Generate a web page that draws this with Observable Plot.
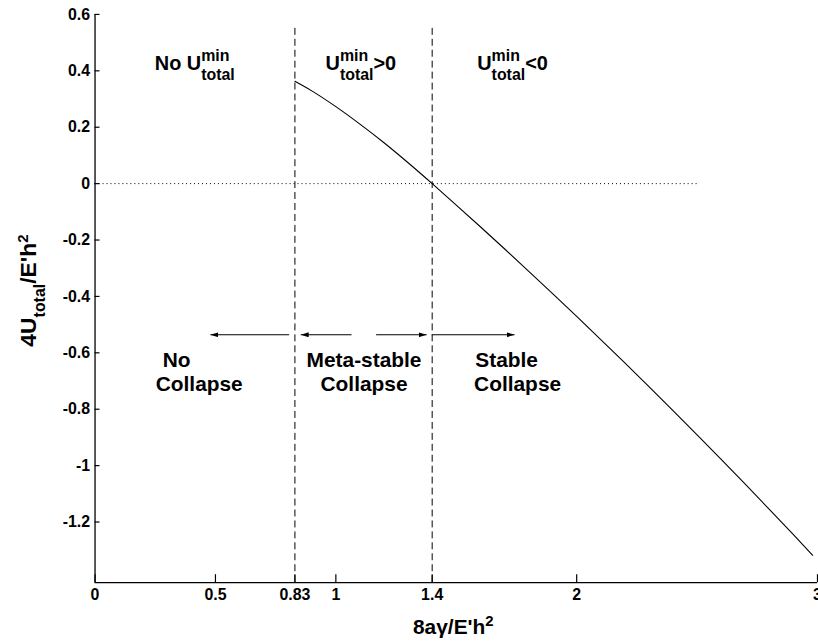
<!DOCTYPE html>
<html><head><meta charset="utf-8">
<script src="https://cdn.jsdelivr.net/npm/d3@7"></script>
<script src="https://cdn.jsdelivr.net/npm/@observablehq/plot@0.6"></script>
<style>
html,body{margin:0;padding:0;background:#fff;overflow:hidden;}
#chart{width:818px;height:644px;overflow:hidden;}
</style></head><body><div id="chart"></div>
<script>
// ---- data ----
const xTicks = [0, 0.5, 0.83, 1, 1.4, 2, 3];
const xTickLabels = ["0", "0.5", "0.83", "1", "1.4", "2", "3"];
const yTicks = [0.6, 0.4, 0.2, 0, -0.2, -0.4, -0.6, -0.8, -1, -1.2];
const yTickLabels = ["0.6", "0.4", "0.2", "0", "-0.2", "-0.4", "-0.6", "-0.8", "-1", "-1.2"];
const xDomain = [0, 3];
const yDomain = [-1.415, 0.6];

const ratio = [0.83, 0.9, 1.0, 1.1, 1.2, 1.3, 1.4, 1.5, 1.6, 1.7, 1.8, 1.9, 2.0, 2.1, 2.2, 2.3, 2.4, 2.5, 2.6, 2.7, 2.8, 2.9, 2.98];
const energy = [0.363, 0.329, 0.273, 0.211, 0.145, 0.074, 0.0, -0.076, -0.153, -0.231, -0.31, -0.39, -0.471, -0.553, -0.636, -0.72, -0.805, -0.891, -0.978, -1.066, -1.155, -1.245, -1.318];

const thresholds = [0.83, 1.4];
const thresholdTop = 0.555;
const zeroLineEnd = 2.5;

const arrowStart = [0.806, 1.065, 1.167, 1.398];
const arrowEnd = [0.479, 0.854, 1.377, 1.742];
const arrowLevel = -0.536;

const regionTitles = ["No U^{min}_{total}", "U^{min}_{total}>0", "U^{min}_{total}<0"];
const regionTitleX = [0.248, 0.957, 1.587];
const regionTitleY = 0.402;

const regimeLeftText = ["No", "Collapse", "Stable", "Collapse"];
const regimeLeftX = [0.281, 0.252, 1.579, 1.574];
const regimeLeftY = [-0.649, -0.737, -0.649, -0.737];
const regimeMidText = ["Meta-stable", "Collapse"];
const regimeMidX = [1.117, 1.117];
const regimeMidY = [-0.649, -0.737];

const xLabel = "8aγ/E'h^{2}";
const yLabel = "4U_{total}/E'h^{2}";

// ---- helpers ----
const FONT = "'Liberation Sans', Arial, Helvetica, sans-serif";
function filledArrow(color) {
  const m = d3.create("svg:marker")
    .attr("viewBox", "-8 -2.5 8 5")
    .attr("markerUnits", "userSpaceOnUse")
    .attr("markerWidth", 8).attr("markerHeight", 5)
    .attr("orient", "auto").attr("refX", 0).attr("refY", 0)
    .attr("fill", color).attr("stroke", "none");
  m.append("path").attr("d", "M-8,-2.5L0,0L-8,2.5Z");
  return m.node();
}
const idx = (a) => a.map((_, i) => i);

const plot = Plot.plot({
  width: 822, height: 644,
  marginLeft: 95, marginRight: 1, marginTop: 14, marginBottom: 59,
  style: {fontFamily: FONT, background: "#fff", color: "#000", overflow: "visible"},
  x: {domain: xDomain, axis: null},
  y: {domain: yDomain, axis: null},
  marks: [
    Plot.ruleY([0], {x1: 0, x2: zeroLineEnd, stroke: "#000", strokeWidth: 1, strokeDasharray: "1,3"}),
    Plot.ruleX(thresholds, {y1: yDomain[0], y2: thresholdTop, stroke: "#000", strokeWidth: 1, strokeDasharray: "7,4"}),
    Plot.line(idx(ratio), {x: i => ratio[i], y: i => energy[i], stroke: "#000", strokeWidth: 1.1, curve: "monotone-x"}),
    Plot.link(idx(arrowStart), {x1: i => arrowStart[i], x2: i => arrowEnd[i], y1: arrowLevel, y2: arrowLevel, stroke: "#000", strokeWidth: 1.2, markerEnd: filledArrow}),
    Plot.text(idx(regionTitles), {x: i => regionTitleX[i], y: regionTitleY, text: i => regionTitles[i], textAnchor: "start", lineAnchor: "bottom", fontSize: 20, fontWeight: "bold", fill: "#000"}),
    Plot.text(idx(regimeLeftText), {x: i => regimeLeftX[i], y: i => regimeLeftY[i], text: i => regimeLeftText[i], textAnchor: "start", lineAnchor: "bottom", fontSize: 21, fontWeight: "bold", fill: "#000"}),
    Plot.text(idx(regimeMidText), {x: i => regimeMidX[i], y: i => regimeMidY[i], text: i => regimeMidText[i], textAnchor: "middle", lineAnchor: "bottom", fontSize: 21, fontWeight: "bold", fill: "#000"}),
    Plot.text([yLabel], {frameAnchor: "left", dx: -59, dy: -8, rotate: -90, textAnchor: "middle", lineAnchor: "bottom", fontSize: 23, fontWeight: "bold", fill: "#000"}),
    Plot.text([xLabel], {frameAnchor: "bottom", dx: -3, dy: 52, textAnchor: "middle", lineAnchor: "bottom", fontSize: 21, fontWeight: "bold", fill: "#000"}),
    Plot.ruleY([yDomain[0]], {stroke: "#000", strokeWidth: 1.3}),
    Plot.ruleX([0], {y1: yDomain[0], y2: yDomain[1], stroke: "#000", strokeWidth: 1.3}),
    Plot.axisX({ticks: xTicks, tickSize: -8, text: null, label: null, stroke: "#000", strokeWidth: 1.2}),
    Plot.axisX({ticks: xTicks, tickSize: 0, tickPadding: 6, label: null, tickFormat: d => xTickLabels[xTicks.indexOf(d)], fontSize: 16, fontWeight: "bold", fill: "#000"}),
    Plot.axisY({ticks: yTicks, tickSize: -5, text: null, label: null, stroke: "#000", strokeWidth: 1.2}),
    Plot.axisY({ticks: yTicks, tickSize: 0, tickPadding: 5, label: null, tickFormat: d => yTickLabels[yTicks.indexOf(d)], fontSize: 16, fontWeight: "bold", fill: "#000"})
  ]
});
document.getElementById("chart").appendChild(plot);

// rich text: ^{sup} and _{sub}, stacked when sub follows sup
const NS = "http://www.w3.org/2000/svg";
function richText(el, cfg) {
  const src = el.textContent;
  const re = /(\^\{[^}]*\}|_\{[^}]*\})/g;
  const tokens = []; let last = 0, m;
  while ((m = re.exec(src))) {
    if (m.index > last) tokens.push({t: "n", s: src.slice(last, m.index)});
    tokens.push({t: m[0][0] === "^" ? "sup" : "sub", s: m[0].slice(2, -1)});
    last = re.lastIndex;
  }
  if (last < src.length) tokens.push({t: "n", s: src.slice(last)});
  while (el.firstChild) el.removeChild(el.firstChild);
  let shift = 0, prev = null;
  for (const tok of tokens) {
    const ts = document.createElementNS(NS, "tspan");
    ts.textContent = tok.s;
    const target = tok.t === "sup" ? -cfg.up : tok.t === "sub" ? cfg.down : 0;
    let dx = 0;
    if (tok.t === "sub" && prev && prev.t === "sup") dx = -prev.w;
    else if (prev && prev.stackW != null) dx = Math.max(0, prev.stackW - prev.w);
    if (target - shift !== 0) ts.setAttribute("dy", target - shift);
    if (dx) ts.setAttribute("dx", dx);
    if (tok.t !== "n") ts.setAttribute("font-size", tok.t === "sup" ? cfg.sup : cfg.sub);
    el.appendChild(ts);
    tok.w = ts.getComputedTextLength();
    if (tok.t === "sub" && prev && prev.t === "sup") tok.stackW = prev.w;
    shift = target; prev = tok;
  }
}
d3.select(plot).selectAll("text").each(function () {
  const s = this.textContent;
  if (!/[\^_]\{/.test(s)) return;
  if (regionTitles.includes(s)) richText(this, {sup: 16, sub: 16, up: 9, down: 10});
  else richText(this, {sup: 15, sub: 16, up: 8, down: 9});
});
</script></body></html>
